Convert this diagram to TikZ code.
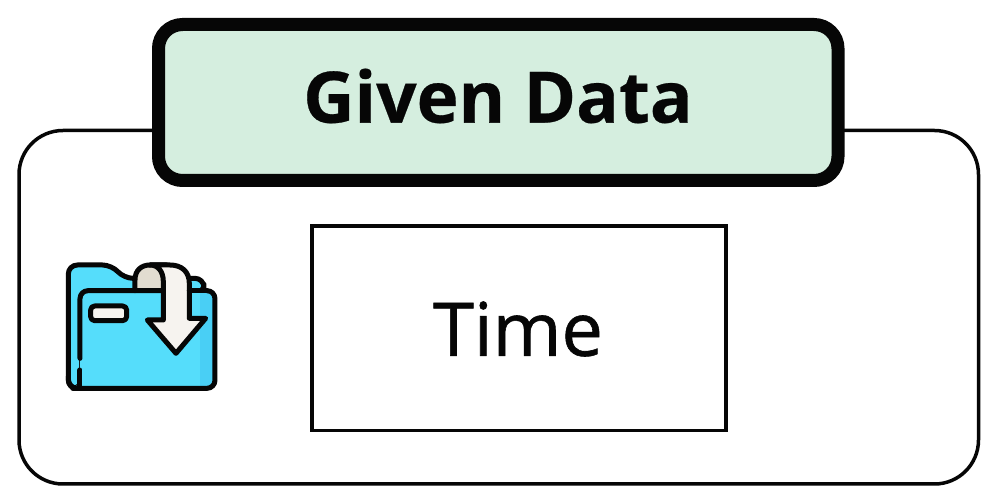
\documentclass[tikz,border=0pt]{standalone}
\usepackage{fontspec}
\setmainfont{Open Sans}
\definecolor{hdr}{HTML}{D5EEDF}
\definecolor{fcyan}{HTML}{55DDFB}
\definecolor{fcyand}{HTML}{49CFF5}
\definecolor{ptan}{HTML}{E2DCD0}
\definecolor{pwhite}{HTML}{F6F3EF}
\definecolor{ink}{HTML}{060606}
\tikzset{
  panel/.style={draw=ink,line width=3.5pt,rounded corners=44pt,fill=white},
  header/.style={draw=ink,line width=13pt,rounded corners=24pt,fill=hdr},
  timebox/.style={draw=ink,line width=3.5pt,fill=white},
  ic/.style={draw=ink,line width=5pt,line join=round,line cap=round},
  hdrtext/.style={font=\fontsize{71}{71}\selectfont\bfseries\addfontfeature{FakeBold=0.4},text=ink},
  bodytext/.style={font=\fontsize{74}{74}\selectfont\addfontfeature{FakeBold=0.8},text=ink}
}
\begin{document}
\begin{tikzpicture}[x=1pt,y=-1pt]
\useasboundingbox (0,0) rectangle (997,502);
\fill[white] (0,0) rectangle (997,502);
\draw[panel] (19,130.5) rectangle (978.5,484);
\draw[header] (158.5,24.5) rectangle (838,180.5);
\node[hdrtext,anchor=center] (title) at (498,96) {Given Data};
\draw[timebox] (312,226) rectangle (726,430.5);
\node[bodytext,anchor=center] (time) at (518,329) {Time};
\begin{scope}[shift={(50,250)},x=0.3333pt,y=-0.3333pt]
  % back folder
  \path[ic,fill=fcyan,rounded corners=9pt] (55,415) -- (55,45) -- (185,45) -- (222,85) -- (462,85) -- (462,130) -- (95,130) -- (95,415) -- cycle;
  % front folder
  \path[fill=fcyan,rounded corners=8pt] (90,122) -- (495,122) -- (495,415) -- (75,415) -- (90,395) -- cycle;
  \fill[fcyand] (450,125) rectangle (490,410);
  % rolled paper
  \path[ic,fill=ptan] (255,122) -- (255,90) .. controls (255,60) and (275,45) .. (300,45) -- (350,45) -- (350,122) -- cycle;
  % paper with arrow
  \path[ic,fill=pwhite] (300,45) -- (360,45) .. controls (395,45) and (418,65) .. (418,100) -- (418,205) -- (467,205) -- (378,310) -- (292,210) -- (340,210) -- (340,95) .. controls (340,65) and (325,45) .. (300,45) -- cycle;
  \draw[ic] (255,122) -- (340,122);
  \draw[ic] (418,122) -- (470,122);
  \draw[ic,rounded corners=8pt] (470,122) -- (495,122) -- (495,415) -- (55,415) -- (55,380);
  \draw[ic,rounded corners=8pt] (90,325) -- (90,122) -- (255,122);
  \draw[ic] (90,360) -- (90,412);
  % label
  \draw[ic,fill=pwhite,rounded corners=4pt] (122,168) rectangle (230,212);
\end{scope}
\end{tikzpicture}
\end{document}
